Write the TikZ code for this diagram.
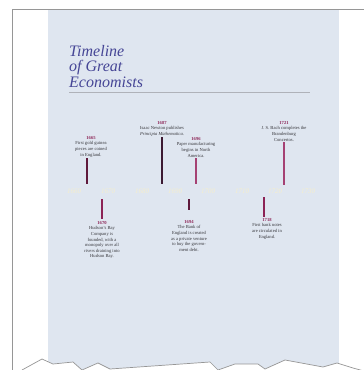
\documentclass[tikz,border=0pt]{standalone}
\usepackage{fontspec}
\setmainfont{Liberation Serif}
\begin{document}
\definecolor{panel}{RGB}{223,230,240}
\definecolor{frame}{RGB}{150,150,150}
\definecolor{titleblue}{RGB}{70,70,150}
\definecolor{yearred}{RGB}{140,35,85}
\definecolor{bodygray}{RGB}{55,55,60}
\definecolor{axiscream}{RGB}{245,238,205}
\definecolor{darkplum}{RGB}{95,25,60}
\definecolor{deepplum}{RGB}{60,25,50}
\definecolor{rose}{RGB}{165,65,115}
\definecolor{rule}{RGB}{175,178,185}
\begin{tikzpicture}[x=1pt,y=-1pt,
  evt/.style={font=\fontsize{4.6}{5.6}\selectfont, align=center, inner sep=0pt,
              text=bodygray},
  tick/.style={line width=1.1pt},
  decade/.style={font=\fontsize{7}{8}\selectfont\itshape, text=axiscream, inner sep=0pt}]
\useasboundingbox (0,0) rectangle (364,370);
\fill[white] (0,0) rectangle (364,370);
% shaded panel
\fill[panel] (48,10) rectangle (339,370);
% torn lower edge
\fill[white] (12,370) -- (22,370) -- (42,359) -- (53,364) -- (73,362) -- (82,370)
  -- (98,363) -- (110,369) -- (210,362) -- (218,370) -- (235,364) -- (258,364)
  -- (265,369) -- (285,360) -- (323,367) -- (337,363) -- (353,368) -- (364,371)
  -- (364,372) -- (12,372) -- cycle;
\draw[frame, line width=0.7pt] (22,370) -- (42,359) -- (53,364) -- (73,362) -- (82,370)
  -- (98,363) -- (110,369) -- (210,362) -- (218,370) -- (235,364) -- (258,364)
  -- (265,369) -- (285,360) -- (323,367) -- (337,363) -- (353,368) -- (364,371);
% page frame
\draw[frame, line width=1pt] (12,370) -- (12,9.5) -- (364,9.5);

% title (base anchor sits on the last line)
\node[anchor=base west, inner sep=0pt, text=titleblue,
      font=\fontsize{16}{15.5}\selectfont\itshape, align=left] (title)
  at (69,87) {Timeline\\of Great\\Economists};
\draw[rule, line width=0.9pt] (69,92) -- (310,92);

% decade labels
\foreach \yy/\xx in {1660/74,1670/108,1680/142,1690/175,1700/208,1710/242,1720/275,1730/308}
  \node[decade] (d\yy) at (\xx,191) {\yy};

% events above the axis
\node[evt, anchor=north] (t1665) at (91,136)
  {{\color{yearred}\bfseries 1665}\\First gold guinea\\pieces are coined\\in England.};
\node[evt, anchor=north] (t1687) at (162,121)
  {{\color{yearred}\bfseries 1687}\\Isaac Newton publishes\\\textit{Principia Mathematica.}};
\node[evt, anchor=north] (t1696) at (196,137)
  {{\color{yearred}\bfseries 1696}\\Paper manufacturing\\begins in North\\America.};
\node[evt, anchor=north] (t1721) at (284,121)
  {{\color{yearred}\bfseries 1721}\\J. S. Bach completes the\\Brandenburg\\Concertos.};

% events below the axis
\node[evt, anchor=north] (t1670) at (102,221)
  {{\color{yearred}\bfseries 1670}\\Hudson's Bay\\Company is\\founded, with a\\monopoly over all\\rivers draining into\\Hudson Bay.};
\node[evt, anchor=north] (t1694) at (189,220)
  {{\color{yearred}\bfseries 1694}\\The Bank of\\England is created\\as a private venture\\to buy the govern-\\ment debt.};
\node[evt, anchor=north] (t1718) at (267,218)
  {{\color{yearred}\bfseries 1718}\\First bank notes\\are circulated in\\England.};

% tick marks
\coordinate (a1665) at (87,158);  \coordinate (b1665) at (87,184);
\coordinate (a1687) at (162,137); \coordinate (b1687) at (162,184);
\coordinate (a1696) at (196,158); \coordinate (b1696) at (196,184);
\coordinate (a1721) at (284,142); \coordinate (b1721) at (284,185);
\coordinate (a1670) at (102,199); \coordinate (b1670) at (102,219);
\coordinate (a1694) at (189,199); \coordinate (b1694) at (189,210);
\coordinate (a1718) at (264,197); \coordinate (b1718) at (264,217);
\draw[tick, darkplum] (a1665) -- (b1665);
\draw[tick, deepplum] (a1687) -- (b1687);
\draw[tick, rose] (a1696) -- (b1696);
\draw[tick, rose] (a1721) -- (b1721);
\draw[tick, yearred] (a1670) -- (b1670);
\draw[tick, darkplum] (a1694) -- (b1694);
\draw[tick, yearred] (a1718) -- (b1718);
\end{tikzpicture}
\end{document}
